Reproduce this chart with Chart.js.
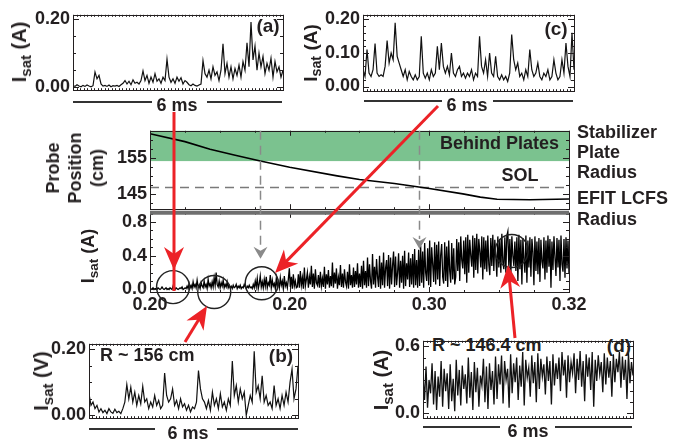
<!DOCTYPE html>
<html>
<head>
<meta charset="utf-8">
<script src="https://cdn.jsdelivr.net/npm/chart.js@4.4.1/dist/chart.umd.min.js"></script>
<style>
body { margin: 0; width: 674px; height: 441px; background: #fff; position: relative; overflow: hidden;
       font-family: "Liberation Sans", Arial, sans-serif; font-weight: bold; color: #231f20; }
canvas { position: absolute; z-index: 1; }
.t { position: absolute; white-space: nowrap; font-size: 18px; line-height: 1; z-index: 2; }
.t sub { font-size: 0.75em; vertical-align: -0.3em; line-height: 0; }
</style>
</head>
<body>
<canvas id="pa" width="272" height="103" style="left:23px;top:1px"></canvas>
<canvas id="pc" width="273" height="104" style="left:313px;top:1px"></canvas>
<canvas id="pb" width="271" height="102" style="left:39px;top:330px"></canvas>
<canvas id="pd" width="267" height="105" style="left:378px;top:327px"></canvas>
<canvas id="mtop" width="476" height="106" style="left:105px;top:117px"></canvas>
<canvas id="mbot" width="488" height="123" style="left:105px;top:199px"></canvas>
<canvas id="ov" width="674" height="441" style="left:0;top:0;z-index:5"></canvas>
<script>
// panel (a): Isat (A), 6 ms window
const aIsat = [0.005,0.003,0.008,0.004,0.002,0.006,0.003,0.007,0.004,0.002,0.005,
  0.045,0.025,0.035,
  0.01,0.004,0.006,0.003,0.007,0.002,0.005,0.004,0.006,0.003,0.008,
  0.012,0.02,0.01,0.018,0.008,0.022,0.012,0.015,0.01,0.02,
  0.048,
  0.02,0.035,0.012,0.03,0.015,0.04,0.018,0.025,0.012,0.03,0.02,
  0.082,
  0.03,0.015,0.025,0.012,0.03,0.018,0.028,0.01,0.02,0.015,
  0.008,0.005,0.01,0.006,0.004,0.007,0.01,
  0.078,0.04,
  0.03,0.05,0.025,0.06,0.035,0.045,0.02,0.05,
  0.127,
  0.04,0.07,0.03,0.06,0.025,0.055,0.035,0.065,0.03,
  0.075,
  0.05,0.13,0.06,
  0.19,
  0.08,0.12,0.05,0.10,0.06,0.09,0.04,0.07,0.05,0.085,
  0.03,0.075,0.045,0.06,0.03,0.05];

// panel (b): Isat (V) at R ~ 156 cm
const bIsat = [0.065,0.03,0.04,0.02,0.03,0.01,0.02,0.008,0.015,0.005,0.02,0.01,0.006,0.018,0.008,0.012,0.005,0.02,
  0.04,0.093,0.05,0.085,0.04,0.07,0.03,0.06,0.035,0.088,0.04,0.05,0.02,0.04,0.025,0.06,0.03,0.045,0.02,0.03,
  0.128,0.06,0.04,0.05,0.08,0.03,0.045,0.02,0.05,0.025,0.035,0.015,0.03,0.01,0.025,0.02,0.04,
  0.136,0.08,0.05,0.04,0.02,0.045,0.015,0.07,0.03,0.05,0.02,0.065,0.025,0.04,0.015,0.05,0.03,
  0.165,0.06,0.09,0.04,0.08,0.05,0.07,0.00,0.03,0.06,0.04,
  0.194,0.07,0.09,0.05,0.12,0.04,0.06,0.03,0.04,0.02,0.09,0.03,0.05,0.02,0.06,0.03,0.07,0.04,0.10,0.14,0.05,0.08,0.15];

// panel (c): Isat (A)
const cIsat = [0.05,0.03,0.11,0.04,0.03,0.05,0.128,0.04,0.03,0.035,0.03,0.06,0.137,0.07,0.10,0.08,0.19,0.09,0.07,0.05,
  0.03,0.05,0.02,0.045,0.03,0.02,0.035,0.02,0.03,0.15,0.04,0.025,0.04,0.02,0.05,0.03,0.04,0.12,0.05,0.13,
  0.06,0.04,0.06,0.035,0.10,0.04,0.03,0.05,0.06,0.03,0.04,0.025,0.04,0.03,0.05,0.02,0.04,0.03,0.15,0.06,
  0.04,0.08,0.03,0.10,0.04,0.03,0.09,0.03,0.02,0.035,0.02,0.03,0.015,0.04,0.155,0.08,0.05,0.07,0.03,0.04,
  0.02,0.05,0.03,0.11,0.05,0.03,0.04,0.07,0.03,0.02,0.04,0.03,0.05,0.02,0.03,0.08,0.04,0.02,0.03,0.08,
  0.04,0.13,0.06,0.03,0.16,0.05];

// panel (d): Isat (A) at R ~ 146.4 cm
const dIsat = [0.35,0.12,0.42,0.05,0.30,0.18,0.45,0.08,0.38,0.03,0.33,0.15,0.47,0.06,0.40,0.20,0.36,0.04,0.44,0.11,
  0.31,0.02,0.48,0.16,0.39,0.07,0.43,0.22,0.35,0.09,0.50,0.14,0.37,0.03,0.46,0.19,0.41,0.06,0.34,0.25,
  0.49,0.10,0.42,0.04,0.45,0.21,0.38,0.08,0.51,0.13,
  0.44,0.26,0.52,0.09,0.47,0.30,0.40,0.05,0.53,0.18,0.45,0.28,0.50,0.12,0.43,0.24,0.55,0.07,0.48,0.32,
  0.41,0.15,0.52,0.27,0.46,0.10,0.54,0.22,0.49,0.33,0.44,0.17,0.51,0.29,0.47,0.08,0.53,0.25,0.45,0.31,
  0.50,0.20,0.55,0.34,0.48,0.14,0.52,0.28,0.46,0.36,0.54,0.18,0.49,0.30,0.56,0.24,0.47,0.11,0.53,0.33,
  0.50,0.21,0.55,0.06,0.48,0.29,0.52,0.35,0.46,0.19,0.54,0.26,0.50,0.32,0.47,0.15,0.53,0.28,0.49,0.37,
  0.55,0.23,0.51,0.30,0.48,0.13,0.54,0.27,0.46,0.34];

// main: probe position (cm) vs time (s)
const posTime = [0.26,0.265,0.2686,0.2722,0.2758,0.28,0.2868,0.29,0.295,0.2985,0.30,0.3048,0.3073,0.3097,0.3144,0.32];
const posR = [161.7,159.5,157.4,155.7,154.1,152.4,150.0,149.0,147.9,146.9,146.5,145.0,144.1,143.5,143.4,143.6];
const plateRadius = 154.1;
const lcfsRadius = 146.9;

// main: Isat (A) over 0.26 - 0.32 s
const mainIsat = [
  0.01,0.00,0.01,0.02,0.00,0.01,0.01,0.00,0.02,0.01,0.00,0.01,0.03,0.01,0.00,0.01,0.02,0.00,0.01,0.00,0.02,0.01,0.00,0.04,0.01,0.00,0.02,0.01,0.00,0.01,0.02,0.01,0.03,0.00,0.01,0.02,0.01,
  0.04,0.01,0.07,0.02,0.05,0.01,0.09,0.03,0.06,0.02,0.11,0.03,0.05,0.01,0.08,0.04,0.02,0.10,0.03,0.06,0.01,0.12,0.04,0.07,0.02,0.09,0.03,0.14,0.05,0.20,0.06,0.03,0.10,0.02,0.08,0.04,0.11,0.02,0.06,0.03,0.09,0.02,0.05,
  0.02,0.04,0.01,0.05,0.02,0.03,0.06,0.01,0.04,0.02,0.05,0.01,0.03,0.02,0.06,0.03,0.01,0.04,0.02,0.05,0.02,0.03,0.01,
  0.06,0.02,0.10,0.03,0.13,0.01,0.07,0.16,0.03,0.09,0.02,0.12,0.04,0.15,0.02,0.08,0.05,0.17,0.02,0.11,0.04,0.07,0.01,0.13,0.03,0.09,0.02,0.14,0.05,0.10,0.01,0.16,0.04,0.08,0.02,0.12,0.25,0.03,0.15,0.01,0.18,0.04,0.10,0.02,
  0.03,0.18,0.02,0.22,0.05,0.14,0.01,0.26,0.04,0.12,0.20,0.02,0.15,0.06,0.28,0.03,0.19,0.01,0.24,0.08,0.05,0.17,0.02,0.21,0.04,0.13,0.03,0.27,0.01,0.18,0.06,0.23,0.02,0.16,0.04,0.32,0.02,0.20,0.07,0.25,0.01,0.14,0.05,0.29,0.03,0.19,0.02,0.24,0.09,0.04,0.21,0.01,0.30,0.05,0.17,0.02,0.26,0.03,0.22,0.06,0.31,0.02,0.19,
  0.03,0.28,0.01,0.34,0.05,0.22,0.02,0.38,0.04,0.30,0.10,0.01,0.42,0.06,0.27,0.02,0.36,0.15,0.03,0.40,0.01,0.32,0.05,0.44,0.02,0.25,0.35,0.04,0.41,0.01,0.38,0.06,0.29,0.45,0.03,0.39,0.05,0.20,0.43,0.02,0.34,0.08,0.40,0.01,0.46,0.04,0.31,0.12,0.44,0.03,0.37,0.06,0.42,0.02,0.48,0.05,0.35,0.02,
  0.47,0.04,0.52,0.08,0.45,0.02,0.55,0.20,0.10,0.49,0.05,0.58,0.03,0.50,0.30,0.09,0.56,0.06,0.53,0.12,0.57,0.04,0.41,0.54,0.15,0.07,0.56,0.10,0.51,0.03,0.58,0.22,0.08,0.55,0.12,0.49,0.06,
  0.15,0.60,0.22,0.56,0.10,0.63,0.35,0.25,0.58,0.18,0.62,0.08,0.65,0.20,0.59,0.40,0.27,0.64,0.14,0.61,0.23,0.66,0.19,0.60,0.45,0.26,0.63,0.12,0.62,0.24,0.58,0.21,0.64,0.30,0.17,0.61,0.28,0.65,0.22,0.59,0.38,0.15,0.63,0.26,0.60,0.20,0.66,0.32,0.24,0.62,
  0.20,0.64,0.69,0.25,0.60,0.18,0.63,0.40,0.28,0.57,0.22,0.62,0.10,0.65,0.24,0.59,0.06,0.61,0.35,0.20,0.64,0.08,0.58,0.26,0.62,0.15,0.60,0.45,0.05,0.63,0.22,0.57,0.18,0.61,0.09,0.59,0.33,0.25,0.62,0.12,0.58,0.20,0.64,0.27,0.60,0.02,0.57,0.23,0.63,0.38,0.16,0.61,0.26,0.59,0.10,0.64,0.30,0.21,0.60,0.14,0.62,0.25,0.58,0.19];

const mainTickValues = [0.26, 0.28, 0.30, 0.32];
const mainTickLabels = ['0.20', '0.20', '0.30', '0.32'];

// dashed markers and circled regions on the main Isat trace
const markTimes = [0.27575, 0.29852];
const markIsat = [0.364, 0.48];
const circleTimes = [0.2633, 0.2692, 0.2760, 0.3118];
const circleIsat = [0.028, -0.03, 0.074, 0.457];

const ink = '#231f20';
const tickFont = { family: 'Liberation Sans', size: 18, weight: 'bold' };

function series(values, t0, t1) {
  const dt = (t1 - t0) / (values.length - 1);
  return values.map((v, i) => ({ x: t0 + i * dt, y: v }));
}

function range(a, b, step) {
  const out = [];
  for (let v = a; v <= b + 1e-9; v += step) out.push(+v.toFixed(4));
  return out;
}

// frame with inward ticks
const frame = {
  id: 'frame',
  afterDatasetsDraw(chart, args, o) {
    const { ctx, chartArea: a, scales } = chart;
    ctx.save();
    ctx.strokeStyle = ink;
    ctx.lineWidth = 1;
    ctx.beginPath();
    const yt = (vals, len) => vals.forEach(v => {
      const y = Math.round(scales.y.getPixelForValue(v)) + 0.5;
      ctx.moveTo(a.left, y); ctx.lineTo(a.left + len, y);
      ctx.moveTo(a.right, y); ctx.lineTo(a.right - len, y);
    });
    const xt = (vals, len) => vals.forEach(v => {
      const x = Math.round(scales.x.getPixelForValue(v)) + 0.5;
      ctx.moveTo(x, a.top); ctx.lineTo(x, a.top + len);
      ctx.moveTo(x, a.bottom); ctx.lineTo(x, a.bottom - len);
    });
    yt(o.yMinor || [], 3);
    yt(o.yMajor || [], 6);
    xt(o.xMinor || [], 2);
    xt(o.xMajor || [], 5);
    ctx.stroke();
    ctx.strokeRect(Math.round(a.left) + 0.5, Math.round(a.top) + 0.5,
      Math.round(a.right - a.left), Math.round(a.bottom - a.top));
    ctx.restore();
  }
};

// plate band and LCFS line in the position plot
const zones = {
  id: 'zones',
  beforeDatasetsDraw(chart, args, o) {
    if (!o || !o.on) return;
    const { ctx, chartArea: a, scales } = chart;
    ctx.save();
    const yp = scales.y.getPixelForValue(plateRadius);
    ctx.fillStyle = '#7bc28f';
    ctx.fillRect(a.left, a.top, a.right - a.left, yp - a.top);
    const yl = Math.round(scales.y.getPixelForValue(lcfsRadius)) + 0.5;
    ctx.strokeStyle = '#7a7a7a';
    ctx.lineWidth = 1.5;
    ctx.setLineDash([9, 6]);
    ctx.beginPath();
    ctx.moveTo(a.left, yl); ctx.lineTo(a.right, yl);
    ctx.stroke();
    ctx.restore();
  }
};

function yAxis(min, max, width, vals, labels) {
  return {
    min, max,
    grid: { display: false, drawTicks: false },
    border: { display: false },
    afterFit: s => { s.width = width; },
    afterBuildTicks: s => { s.ticks = vals.map(v => ({ value: v })); },
    ticks: { padding: 3, color: ink, font: tickFont, callback: (v, i) => labels[i] }
  };
}

function makeChart(id, data, color, lw, xMin, xMax, y, frameOpts, extra) {
  extra = extra || {};
  return new Chart(document.getElementById(id), {
    type: 'line',
    data: { datasets: [{ data, borderColor: color, borderWidth: lw, pointRadius: 0, tension: 0 }] },
    options: {
      responsive: false,
      animation: false,
      events: [],
      layout: { padding: extra.padding || { top: 12, right: 12, bottom: 12, left: 0 } },
      plugins: { legend: { display: false }, tooltip: { enabled: false }, frame: frameOpts, zones: extra.zones || {} },
      scales: {
        x: extra.x || { type: 'linear', min: xMin, max: xMax, display: false },
        y
      }
    },
    plugins: [frame, zones]
  });
}

const msMinor = range(0, 6, 0.1);

makeChart('pa', series(aIsat, 0, 6), '#111', 1.2, 0, 6,
  yAxis(-0.008, 0.211, 50, [0, 0.2], ['0.00', '0.20']),
  { yMinor: range(0.05, 0.15, 0.05), yMajor: [0, 0.2], xMinor: msMinor });

makeChart('pc', series(cIsat, 0, 6), '#111', 1.2, 0, 6,
  yAxis(-0.014, 0.214, 50, [0, 0.1, 0.2], ['0.00', '0.10', '0.20']),
  { yMinor: range(0.02, 0.18, 0.02), yMajor: [0, 0.1, 0.2], xMinor: msMinor });

makeChart('pb', series(bIsat, 0, 6), '#111', 1.2, 0, 6,
  yAxis(-0.009, 0.217, 50, [0, 0.2], ['0.00', '0.20']),
  { yMinor: range(0.05, 0.15, 0.05), yMajor: [0, 0.2], xMinor: msMinor });

makeChart('pd', series(dIsat, 0, 6), '#111', 1.3, 0, 6,
  yAxis(-0.043, 0.651, 45, [0, 0.6], ['0.0', '0.6']),
  { yMinor: range(0.1, 0.5, 0.1), yMajor: [0, 0.6], xMinor: msMinor });

const mainMinor = range(0.26, 0.32, 0.005);

const topChart = makeChart('mtop', posTime.map((t, i) => ({ x: t, y: posR[i] })), '#000', 1.6, 0.26, 0.32,
  yAxis(140.76, 162.5, 45, [145, 155], ['145', '155']),
  { yMinor: range(142.5, 160, 2.5), yMajor: [145, 155], xMinor: mainMinor, xMajor: mainTickValues },
  { zones: { on: true } });

const botChart = makeChart('mbot', series(mainIsat, 0.26, 0.32), '#000', 1.3, 0.26, 0.32,
  yAxis(-0.03, 0.91, 45, [0, 0.4, 0.8], ['0.0', '0.4', '0.8']),
  { yMinor: range(0.1, 0.9, 0.1), yMajor: [0, 0.4, 0.8], xMinor: mainMinor, xMajor: mainTickValues },
  {
    padding: { top: 12, right: 24, bottom: 0, left: 0 },
    x: {
      type: 'linear', min: 0.26, max: 0.32,
      grid: { display: false, drawTicks: false },
      border: { display: false },
      afterFit: s => { s.height = 30; },
      afterBuildTicks: s => { s.ticks = mainTickValues.map(v => ({ value: v })); },
      ticks: { padding: 2, color: ink, font: tickFont, maxRotation: 0, callback: (v, i) => mainTickLabels[i] }
    }
  });

// text labels
function addText(html, x, y, anchor, opts) {
  opts = opts || {};
  const d = document.createElement('div');
  d.className = 't';
  d.innerHTML = html;
  d.style.left = x + 'px';
  d.style.top = y + 'px';
  if (opts.size) d.style.fontSize = opts.size + 'px';
  if (opts.z !== undefined) d.style.zIndex = opts.z;
  if (opts.lh) { d.style.lineHeight = opts.lh + 'px'; d.style.textAlign = 'center'; }
  const tx = anchor === 'l' ? '0' : anchor === 'r' ? '-100%' : '-50%';
  d.style.transform = 'translate(' + tx + ',-50%)' + (opts.rot ? ' rotate(-90deg)' : '');
  document.body.appendChild(d);
}

const isatA = 'I<sub>sat</sub> (A)';
addText(isatA, 19, 52, 'c', { rot: true, size: 20 });
addText(isatA, 310, 53, 'c', { rot: true, size: 19 });
addText('I<sub>sat</sub> (V)', 41, 381, 'c', { rot: true, size: 20 });
addText(isatA, 381, 380, 'c', { rot: true, size: 20 });
addText(isatA, 88, 256, 'c', { rot: true });
addText('Probe<br>Position<br>(cm)', 75, 168, 'c', { rot: true, lh: 22 });

addText('(a)', 268, 25, 'c', { size: 19 });
addText('(c)', 556, 28, 'c', { size: 19 });
addText('(b)', 281, 355, 'c', { size: 19 });
addText('(d)', 619, 345, 'c', { size: 19, z: 0 });
addText('R ~ 156 cm', 100, 355, 'l');
addText('R ~ 146.4 cm', 432, 345, 'l', { z: 0 });
addText('6 ms', 177, 105, 'c');
addText('6 ms', 467, 105, 'c');
addText('6 ms', 188, 433, 'c');
addText('6 ms', 528, 431, 'c');
addText('Behind Plates', 559, 143, 'r');
addText('SOL', 520, 175, 'c');
addText('Stabilizer', 577, 132, 'l');
addText('Plate', 577, 152, 'l');
addText('Radius', 577, 172, 'l');
addText('EFIT LCFS', 577, 198, 'l');
addText('Radius', 577, 219, 'l');

// overlay: scale bars, separator, markers, circles, red arrows
(function drawOverlay() {
  const ctx = document.getElementById('ov').getContext('2d');

  ctx.strokeStyle = '#333';
  ctx.lineWidth = 2;
  [[102, 73, 152, 207, 282], [101, 364, 442, 493, 573], [429, 89, 155, 217, 298], [427, 423, 500, 555, 632]]
    .forEach(([y, a0, a1, b0, b1]) => {
      ctx.beginPath();
      ctx.moveTo(a0, y); ctx.lineTo(a1, y);
      ctx.moveTo(b0, y); ctx.lineTo(b1, y);
      ctx.stroke();
    });

  const bx = 105, by = 199, ty = 117;
  const xs = botChart.scales.x, ys = botChart.scales.y;
  const area = botChart.chartArea;

  // separator between the two main plots
  ctx.strokeStyle = '#6f6f6f';
  ctx.lineWidth = 4;
  ctx.beginPath();
  ctx.moveTo(bx + area.left, by + area.top);
  ctx.lineTo(bx + area.right, by + area.top);
  ctx.stroke();

  // gray dashed markers
  const topY = ty + topChart.chartArea.top;
  markTimes.forEach((t, i) => {
    const x = Math.round(bx + xs.getPixelForValue(t)) + 0.5;
    const tip = by + ys.getPixelForValue(markIsat[i]);
    ctx.strokeStyle = '#8a8a8a';
    ctx.lineWidth = 1.5;
    ctx.setLineDash([9, 6]);
    ctx.beginPath();
    ctx.moveTo(x, topY); ctx.lineTo(x, tip - 10);
    ctx.stroke();
    ctx.setLineDash([]);
    ctx.fillStyle = '#8a8a8a';
    ctx.beginPath();
    ctx.moveTo(x, tip);
    ctx.lineTo(x - 7, tip - 12);
    ctx.lineTo(x, tip - 8);
    ctx.lineTo(x + 7, tip - 12);
    ctx.closePath();
    ctx.fill();
  });

  // circles
  ctx.strokeStyle = '#222';
  ctx.lineWidth = 1.4;
  circleTimes.forEach((t, i) => {
    ctx.beginPath();
    ctx.arc(bx + xs.getPixelForValue(t), by + ys.getPixelForValue(circleIsat[i]), 16.5, 0, Math.PI * 2);
    ctx.stroke();
  });

  // red arrows
  const red = '#ec2227';
  function head(x1, y1, ux, uy) {
    const hl = 23, hw = 10;
    ctx.fillStyle = red;
    ctx.beginPath();
    ctx.moveTo(x1, y1);
    ctx.lineTo(x1 - ux * hl - uy * hw, y1 - uy * hl + ux * hw);
    ctx.lineTo(x1 - ux * hl * 0.7, y1 - uy * hl * 0.7);
    ctx.lineTo(x1 - ux * hl + uy * hw, y1 - uy * hl - ux * hw);
    ctx.closePath();
    ctx.fill();
  }
  function arrow(x0, y0, x1, y1, lineEnd) {
    const L = Math.hypot(x1 - x0, y1 - y0), ux = (x1 - x0) / L, uy = (y1 - y0) / L;
    ctx.strokeStyle = red;
    ctx.lineWidth = 3;
    ctx.beginPath();
    ctx.moveTo(x0, y0);
    if (lineEnd) ctx.lineTo(lineEnd[0], lineEnd[1]);
    else ctx.lineTo(x1 - ux * 12, y1 - uy * 12);
    ctx.stroke();
    head(x1, y1, ux, uy);
  }
  arrow(174, 112, 174, 270, [174, 291]);
  arrow(438, 106, 275, 273);
  arrow(185, 342, 207, 306);
  arrow(515, 338, 508, 265);
})();
</script>
</body>
</html>
